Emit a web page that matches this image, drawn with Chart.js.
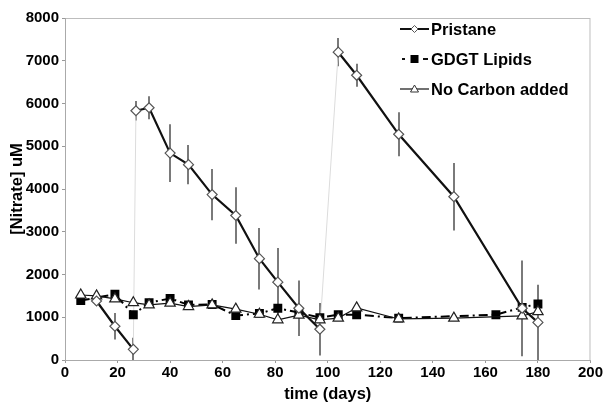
<!DOCTYPE html>
<html><head><meta charset="utf-8">
<script src="https://cdn.jsdelivr.net/npm/chart.js@4/dist/chart.umd.min.js"></script>
<style>html,body{margin:0;padding:0;background:#fff}#wrap{width:604px;height:404px}</style>
</head><body><div id="wrap"><canvas id="c" width="604" height="404"></canvas></div>
<script>
// ---- data ----
const seriesNames = ['Pristane', 'GDGT Lipids', 'No Carbon added'];
const pristaneDays   = [12, 19, 26, 27, 32, 40, 47, 56, 65, 74, 81, 89, 97, 104, 111, 127, 148, 174, 180];
const pristaneValues = [1380, 790, 250, 5830, 5900, 4840, 4570, 3870, 3380, 2370, 1820, 1210, 720, 7200, 6660, 5280, 3820, 1210, 880];
const pristaneErrors = [60, 310, 270, 230, 270, 675, 460, 600, 660, 720, 800, 650, 615, 330, 270, 515, 790, 1120, 880];
const gdgtDays   = [6, 19, 26, 32, 40, 47, 56, 65, 74, 81, 89, 97, 104, 111, 127, 164, 174, 180];
const gdgtValues = [1390, 1540, 1060, 1340, 1440, 1290, 1300, 1040, 1090, 1210, 1110, 990, 1060, 1060, 980, 1060, 1230, 1310];
const noCarbonDays   = [6, 12, 19, 26, 32, 40, 47, 56, 65, 74, 81, 89, 97, 104, 111, 127, 148, 174, 180];
const noCarbonValues = [1520, 1500, 1430, 1340, 1290, 1330, 1250, 1290, 1190, 1070, 940, 1050, 940, 980, 1220, 960, 980, 1030, 1130];
const respikeIndexes = [2, 12]; // pristane points after which carbon was re-added
const xMin = 0, xMax = 200, xStep = 20;
const yMin = 0, yMax = 8000, yStep = 1000;
const xTitle = 'time (days)';
const yTitle = '[Nitrate] uM';

const pts = (xs, ys) => xs.map((x, i) => ({x: x, y: ys[i]}));
const connectorData = [];
respikeIndexes.forEach(i => {
  connectorData.push({x: pristaneDays[i], y: pristaneValues[i]});
  connectorData.push({x: pristaneDays[i + 1], y: pristaneValues[i + 1]});
  connectorData.push({x: pristaneDays[i + 1], y: null});
});
const FONT = '"Liberation Sans", Arial, sans-serif';

const errorBars = {
  id: 'errorBars',
  beforeDatasetsDraw(chart) {
    const {ctx, scales: {x, y}} = chart;
    ctx.save();
    ctx.strokeStyle = '#7a7a7a';
    ctx.lineWidth = 2;
    pristaneDays.forEach((d, i) => {
      const px = Math.round(x.getPixelForValue(d));
      const lo = Math.max(yMin, pristaneValues[i] - pristaneErrors[i]);
      const hi = pristaneValues[i] + pristaneErrors[i];
      ctx.beginPath();
      ctx.moveTo(px, y.getPixelForValue(lo));
      ctx.lineTo(px, y.getPixelForValue(hi));
      ctx.stroke();
    });
    ctx.restore();
  }
};

const frame = {
  id: 'frame',
  beforeDraw(chart) {
    const {ctx, chartArea: a} = chart;
    ctx.save();
    ctx.strokeStyle = '#bdbdbd';
    ctx.lineWidth = 1;
    ctx.strokeRect(a.left + 0.5, a.top + 0.5, a.right - a.left - 1, a.bottom - a.top);
    ctx.restore();
  }
};

const legendBox = {
  id: 'legendBox',
  afterDraw(chart) {
    const {ctx} = chart;
    ctx.save();
    const x0 = 400, x1 = 429, xm = 414.5;
    const rows = [29, 59, 89];
    // Pristane
    ctx.strokeStyle = '#111'; ctx.lineWidth = 2;
    ctx.beginPath(); ctx.moveTo(x0, rows[0]); ctx.lineTo(x1, rows[0]); ctx.stroke();
    ctx.fillStyle = '#fff'; ctx.strokeStyle = '#555'; ctx.lineWidth = 1;
    ctx.beginPath(); ctx.moveTo(xm, rows[0] - 3.5); ctx.lineTo(xm + 3.5, rows[0]); ctx.lineTo(xm, rows[0] + 3.5); ctx.lineTo(xm - 3.5, rows[0]); ctx.closePath(); ctx.fill(); ctx.stroke();
    // GDGT
    ctx.strokeStyle = '#111'; ctx.lineWidth = 2;
    ctx.beginPath(); ctx.moveTo(402, rows[1]); ctx.lineTo(405, rows[1]); ctx.moveTo(423, rows[1]); ctx.lineTo(428, rows[1]); ctx.stroke();
    ctx.fillStyle = '#000'; ctx.fillRect(xm - 4, rows[1] - 4, 8, 8);
    // No carbon
    ctx.strokeStyle = '#111'; ctx.lineWidth = 1.2;
    ctx.beginPath(); ctx.moveTo(x0, rows[2]); ctx.lineTo(x1, rows[2]); ctx.stroke();
    ctx.fillStyle = '#fff'; ctx.strokeStyle = '#333'; ctx.lineWidth = 1;
    ctx.beginPath(); ctx.moveTo(xm, rows[2] - 4); ctx.lineTo(xm + 4, rows[2] + 3); ctx.lineTo(xm - 4, rows[2] + 3); ctx.closePath(); ctx.fill(); ctx.stroke();
    ctx.fillStyle = '#000';
    ctx.font = 'bold 16.5px ' + FONT;
    ctx.textBaseline = 'middle';
    seriesNames.forEach((n, i) => ctx.fillText(n, 431, rows[i] + 1));
    ctx.restore();
  }
};

new Chart(document.getElementById('c'), {
  type: 'line',
  data: {
    datasets: [
      {
        label: seriesNames[0], data: pts(pristaneDays, pristaneValues),
        borderColor: '#111', borderWidth: 2.2, order: 0,
        pointStyle: 'rectRot', pointRadius: 5, pointBackgroundColor: '#fff',
        pointBorderColor: '#555', pointBorderWidth: 1.2,
        segment: { borderColor: c => respikeIndexes.includes(c.p0DataIndex) ? 'rgba(0,0,0,0)' : undefined }
      },
      {
        label: 'respike', data: connectorData, borderColor: '#dcdcdc', borderWidth: 1,
        pointRadius: 0, spanGaps: false, order: 10
      },
      {
        label: seriesNames[1], data: pts(gdgtDays, gdgtValues),
        borderColor: '#000', borderWidth: 2, borderDash: [9, 4, 2, 4], order: 2,
        pointStyle: 'rect', pointRadius: 6.3, pointBackgroundColor: '#000',
        pointBorderColor: '#000', pointBorderWidth: 0
      },
      {
        label: seriesNames[2], data: pts(noCarbonDays, noCarbonValues),
        borderColor: '#111', borderWidth: 1.2, order: 1,
        pointStyle: 'triangle', pointRadius: 6, pointBackgroundColor: '#fff',
        pointBorderColor: '#222', pointBorderWidth: 1.2
      }
    ]
  },
  options: {
    responsive: false, animation: false, devicePixelRatio: 1,
    layout: { padding: { top: 18, right: 12, left: 0, bottom: 0 } },
    plugins: { legend: { display: false }, tooltip: { enabled: false } },
    scales: {
      x: {
        type: 'linear', min: xMin, max: xMax,
        ticks: { stepSize: xStep, color: '#000', padding: 1, callback: v => String(v), font: { family: FONT, size: 15, weight: 'bold' } },
        grid: { display: true, drawOnChartArea: false, drawTicks: true, tickLength: 3, color: '#999' },
        border: { display: true, color: '#aaa' },
        title: { display: true, text: xTitle, color: '#000', padding: { top: 0, bottom: 0 }, font: { family: FONT, size: 16.5, weight: 'bold' } },
        afterFit: s => { s.height = 44; }
      },
      y: {
        min: yMin, max: yMax,
        ticks: { stepSize: yStep, color: '#000', padding: 3, callback: v => String(v), font: { family: FONT, size: 15, weight: 'bold' } },
        grid: { display: true, drawOnChartArea: false, drawTicks: true, tickLength: 3, color: '#999' },
        border: { display: true, color: '#aaa' },
        title: { display: true, text: yTitle, color: '#000', padding: { top: 8, bottom: 0 }, font: { family: FONT, size: 16.5, weight: 'bold' } },
        afterFit: s => { s.width = 65; }
      }
    }
  },
  plugins: [frame, errorBars, legendBox]
});
</script>
</body></html>
